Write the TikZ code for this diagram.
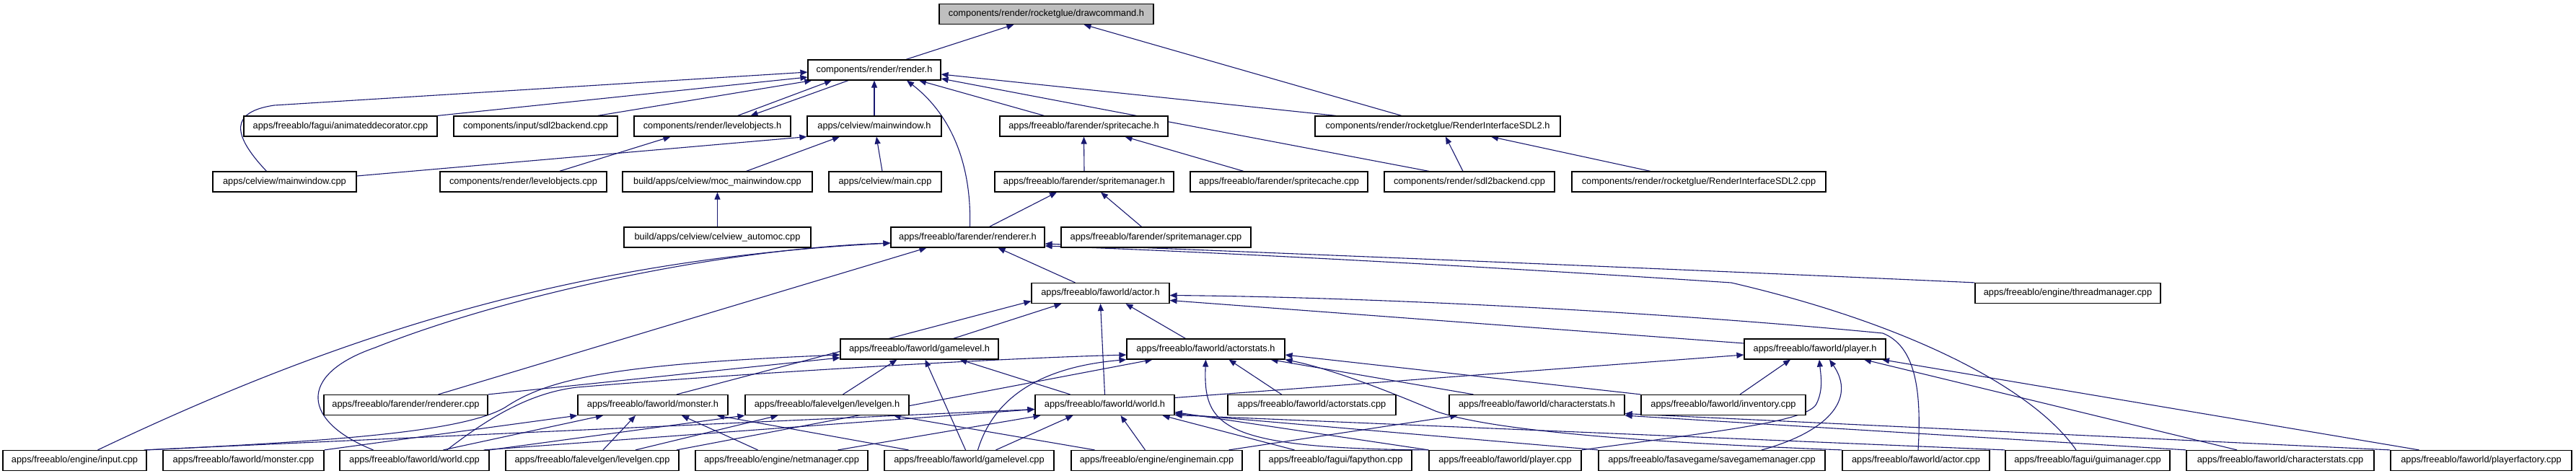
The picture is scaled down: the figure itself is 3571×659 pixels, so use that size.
\documentclass[tikz,border=0pt]{standalone}
\usepackage{fontspec}
\setmainfont{Liberation Sans}
\usetikzlibrary{arrows.meta}
\definecolor{edgec}{HTML}{191970}
\definecolor{fillg}{HTML}{BFBFBF}
\pgfdeclarelayer{bg}
\pgfsetlayers{bg,main}
\begin{document}
\begin{tikzpicture}[x=1pt,y=-1pt,
  box/.style={draw=black,line width=1.2pt,rectangle,minimum height=28pt,inner sep=0pt,font=\fontsize{12.8}{15}\selectfont,fill=white},
  edge/.style={draw=edgec,line width=1.1pt,-{Triangle[length=10pt,width=8pt]}}]
\useasboundingbox (0,0) rectangle (3571,659);
% row 0,1
\node[box,minimum width=297pt,fill=fillg] (dc) at (1450.5,19.5) {components/render/rocketglue/drawcommand.h};
\node[box,minimum width=184pt] (rh) at (1212,97) {components/render/render.h};
% row 2
\node[box,minimum width=268pt] (ad) at (472,175) {apps/freeablo/fagui/animateddecorator.cpp};
\node[box,minimum width=227pt] (isb) at (742.5,175) {components/input/sdl2backend.cpp};
\node[box,minimum width=217pt] (loh) at (987.5,175) {components/render/levelobjects.h};
\node[box,minimum width=186pt] (mwh) at (1212,175) {apps/celview/mainwindow.h};
\node[box,minimum width=233pt] (sch) at (1502.5,175) {apps/freeablo/farender/spritecache.h};
\node[box,minimum width=340pt] (rih) at (1993,175) {components/render/rocketglue/RenderInterfaceSDL2.h};
% row 3
\node[box,minimum width=199pt] (mwc) at (394.5,252) {apps/celview/mainwindow.cpp};
\node[box,minimum width=231pt] (loc) at (725.5,252) {components/render/levelobjects.cpp};
\node[box,minimum width=263pt] (moc) at (994.5,252) {build/apps/celview/moc\_mainwindow.cpp};
\node[box,minimum width=156pt] (mc) at (1227,252) {apps/celview/main.cpp};
\node[box,minimum width=248pt] (smh) at (1503,252) {apps/freeablo/farender/spritemanager.h};
\node[box,minimum width=246pt] (scc) at (1773,252) {apps/freeablo/farender/spritecache.cpp};
\node[box,minimum width=236pt] (rsb) at (2037,252) {components/render/sdl2backend.cpp};
\node[box,minimum width=352pt] (ric) at (2355,252) {components/render/rocketglue/RenderInterfaceSDL2.cpp};
% row 4
\node[box,minimum width=259pt] (am) at (994.5,329) {build/apps/celview/celview\_automoc.cpp};
\node[box,minimum width=213pt] (rrh) at (1341.5,329) {apps/freeablo/farender/renderer.h};
\node[box,minimum width=263pt] (smc) at (1602.5,329) {apps/freeablo/farender/spritemanager.cpp};
% row 5
\node[box,minimum width=191pt] (ah) at (1525.5,406.5) {apps/freeablo/faworld/actor.h};
\node[box,minimum width=257pt] (tm) at (2866.5,406.5) {apps/freeablo/engine/threadmanager.cpp};
% row 6
\node[box,minimum width=219pt] (glh) at (1274.5,484) {apps/freeablo/faworld/gamelevel.h};
\node[box,minimum width=219pt] (ash) at (1671.5,484) {apps/freeablo/faworld/actorstats.h};
\node[box,minimum width=196pt] (ph) at (2516,484) {apps/freeablo/faworld/player.h};
% row 7
\node[box,minimum width=227pt] (rrc) at (562.5,561.5) {apps/freeablo/farender/renderer.cpp};
\node[box,minimum width=208pt] (mh) at (905,561.5) {apps/freeablo/faworld/monster.h};
\node[box,minimum width=227pt] (lgh) at (1146.5,561.5) {apps/freeablo/falevelgen/levelgen.h};
\node[box,minimum width=193pt] (wh) at (1531.5,561.5) {apps/freeablo/faworld/world.h};
\node[box,minimum width=233pt] (asc) at (1818.5,561.5) {apps/freeablo/faworld/actorstats.cpp};
\node[box,minimum width=243pt] (csh) at (2130.5,561.5) {apps/freeablo/faworld/characterstats.h};
\node[box,minimum width=228pt] (inv) at (2389,561.5) {apps/freeablo/faworld/inventory.cpp};
% row 8
\node[box,minimum width=199pt] (inp) at (103.5,638.5) {apps/freeablo/engine/input.cpp};
\node[box,minimum width=223pt] (mcc) at (337.5,638.5) {apps/freeablo/faworld/monster.cpp};
\node[box,minimum width=207pt] (wc) at (574.5,638.5) {apps/freeablo/faworld/world.cpp};
\node[box,minimum width=240pt] (lgc) at (821,638.5) {apps/freeablo/falevelgen/levelgen.cpp};
\node[box,minimum width=239pt] (nm) at (1083.5,638.5) {apps/freeablo/engine/netmanager.cpp};
\node[box,minimum width=235pt] (glc) at (1343.5,638.5) {apps/freeablo/faworld/gamelevel.cpp};
\node[box,minimum width=237pt] (em) at (1603.5,638.5) {apps/freeablo/engine/enginemain.cpp};
\node[box,minimum width=211pt] (fp) at (1851.5,638.5) {apps/freeablo/fagui/fapython.cpp};
\node[box,minimum width=211pt] (pc) at (2086.5,638.5) {apps/freeablo/faworld/player.cpp};
\node[box,minimum width=314pt] (sg) at (2373,638.5) {apps/freeablo/fasavegame/savegamemanager.cpp};
\node[box,minimum width=204pt] (acc) at (2656,638.5) {apps/freeablo/faworld/actor.cpp};
\node[box,minimum width=228pt] (gm) at (2894,638.5) {apps/freeablo/fagui/guimanager.cpp};
\node[box,minimum width=260pt] (csc) at (3161,638.5) {apps/freeablo/faworld/characterstats.cpp};
\node[box,minimum width=251pt] (pf) at (3439.5,638.5) {apps/freeablo/faworld/playerfactory.cpp};

\begin{pgfonlayer}{bg}
% top part
\draw[edge] ([xshift=44pt]rh.north) -- ([xshift=-45pt]dc.south);
\draw[edge] ([xshift=-50pt]rih.north) -- ([xshift=52pt]dc.south);
\draw[edge] ([xshift=-25pt]mwc.north) .. controls (320,185) and (320,155) .. (380,146) -- ([yshift=-3pt]rh.west);
\draw[edge] (ad.north east) -- ([yshift=-10pt]rh.west);
\draw[edge] ([xshift=86pt]isb.north) -- ([xshift=6pt]rh.south west);
\draw[edge] ([xshift=35pt]loh.north) -- ([xshift=-59pt]rh.south);
\draw[edge] ([xshift=-36pt]rh.south) -- ([xshift=53pt]loh.north);
\draw[edge] (mwh.north) -- (rh.south);
\draw[edge] ([xshift=3pt]rrh.north) .. controls (1347,230) and (1320,160) .. ([xshift=45pt]rh.south);
\draw[edge] ([xshift=-55pt]sch.north) -- ([xshift=62pt]rh.south);
\draw[edge] ([xshift=-141pt]rih.north) -- ([yshift=-6pt]rh.east);
\draw[edge] ([xshift=-56pt]rsb.north) -- ([yshift=-12pt]rh.east);
\draw[edge] ([xshift=50pt]loc.north) -- ([xshift=-58pt]loh.south);
\draw[edge] ([yshift=8pt]mwc.east) -- (mwh.south west);
\draw[edge] ([xshift=40pt]moc.north) -- ([xshift=-48pt]mwh.south);
\draw[edge] ([xshift=-4pt]mc.north) -- ([xshift=3pt]mwh.south);
\draw[edge] (am.north) -- (moc.south);
\draw[edge] (smh.north) -- (sch.south);
\draw[edge] ([xshift=-49pt]scc.north) -- ([xshift=57pt]sch.south);
\draw[edge] ([xshift=30pt]rrh.north) -- ([xshift=-38pt]smh.south);
\draw[edge] ([xshift=-20pt]smc.north) -- ([xshift=23pt]smh.south);
\draw[edge] ([xshift=-9pt]rsb.north) -- ([xshift=11pt]rih.south);
\draw[edge] ([xshift=-67pt]ric.north) -- ([xshift=74pt]rih.south);
% renderer.h
\draw[edge] ([xshift=32pt]inp.north) .. controls (480,460) and (800,360) .. ([yshift=-8pt]rrh.west);
\draw[edge] ([xshift=-57pt]wc.north) .. controls (420,585) and (410,520) .. (520,482) .. controls (700,410) and (1000,345) .. ([yshift=-8pt]rrh.west);
\draw[edge] ([xshift=45pt]rrc.north) -- ([xshift=-57pt]rrh.south);
\draw[edge] ([xshift=-35pt]ah.north) -- ([xshift=42pt]rrh.south);
\draw[edge] (tm.north west) .. controls (2300,372) and (1800,352) .. ([yshift=-9pt]rrh.east);
\draw[edge] ([xshift=-16pt]gm.north) .. controls (2820,540) and (2650,450) .. (2400,392) .. controls (2100,372) and (1700,350) .. ([yshift=-12pt]rrh.east);
% actor.h
\draw[edge] ([xshift=47pt]glh.north) -- ([xshift=-54pt]ah.south);
\draw[edge] ([xshift=33pt]mh.north) -- ([yshift=-11pt]ah.west);
\draw[edge] (wh.north) -- (ah.south);
\draw[edge] ([xshift=-28pt]ash.north) -- ([xshift=35pt]ah.south);
\draw[edge] ([xshift=3pt]acc.north) .. controls (2664,540) and (2655,480) .. (2610,462) .. controls (2300,432) and (1900,412) .. ([yshift=-3pt]ah.east);
\draw[edge] ([yshift=8pt]ph.west) -- ([yshift=-10pt]ah.east);
% gamelevel.h
\draw[edge] ([xshift=22pt]lgh.north) -- ([xshift=-31pt]glh.south);
\draw[edge] ([xshift=-5pt]glc.north) -- ([xshift=8pt]glh.south);
\draw[edge] ([xshift=-48pt]wh.north) -- ([xshift=56pt]glh.south);
\draw[edge] (inp.north east) .. controls (450,612) and (640,600) .. (700,565) .. controls (760,525) and (850,505) .. ([yshift=-8pt]glh.west);
\draw[edge] (rrc.north east) -- ([yshift=-12pt]glh.west);
% monster.h
\draw[edge] (mcc.north east) -- (mh.south west);
\draw[edge] ([xshift=40pt]wc.north) -- ([xshift=-69pt]mh.south);
\draw[edge] ([xshift=15pt]lgc.north) -- ([xshift=-24pt]mh.south);
\draw[edge] ([xshift=-33pt]nm.north) -- ([xshift=40pt]mh.south);
\draw[edge] ([xshift=-84pt]glc.north) -- ([xshift=89pt]mh.south);
% levelgen.h
\draw[edge] (wc.north east) -- (lgh.south west);
\draw[edge] ([xshift=60pt]lgc.north) -- ([xshift=-68pt]lgh.south);
\draw[edge] ([xshift=-86pt]em.north) -- ([xshift=92pt]lgh.south);
% actorstats.h
\draw[edge] ([xshift=45pt]wc.north) .. controls (670,585) and (730,545) .. (800,537) .. controls (1000,520) and (1350,498) .. ([yshift=-8pt]ash.west);
\draw[edge] ([xshift=12pt]glc.north) .. controls (1375,560) and (1430,510) .. (ash.south west);
\draw[edge] ([xshift=117pt]lgc.north) -- ([xshift=-74pt]ash.south);
\draw[edge] (pc.north west) .. controls (1690,622) and (1668,590) .. (ash.south);
\draw[edge] ([xshift=-42pt]asc.north) -- ([xshift=32pt]ash.south);
\draw[edge] ([xshift=-88pt]csh.north) -- ([xshift=90pt]ash.south);
\draw[edge] (acc.north west) .. controls (2350,616) and (2080,602) .. (1990,570) .. controls (1920,540) and (1840,510) .. (ash.south east);
\draw[edge] (inv.north west) -- ([yshift=-8pt]ash.east);
% world.h
\draw[edge] ([xshift=-4pt]inp.north east) -- ([yshift=-6pt]wh.west);
\draw[edge] ([xshift=-8pt]wc.north east) -- ([yshift=-6pt]wh.west);
\draw[edge] ([xshift=78pt]nm.north) -- ([xshift=-89pt]wh.south);
\draw[edge] ([xshift=37pt]glc.north) -- ([xshift=-44pt]wh.south);
\draw[edge] ([xshift=-16pt]em.north) -- ([xshift=22pt]wh.south);
\draw[edge] ([xshift=-57pt]fp.north) -- ([xshift=80pt]wh.south);
\draw[edge] (pc.north west) -- ([yshift=-10pt]wh.east);
\draw[edge] (sg.north west) -- ([yshift=-12pt]wh.east);
\draw[edge] (gm.north west) -- ([yshift=-14pt]wh.east);
% characterstats.h
\draw[edge] ([xshift=100pt]em.north) -- ([xshift=-110pt]csh.south);
\draw[edge] (csc.north west) -- (csh.south east);
\draw[edge] (pf.north west) -- ([yshift=-12pt]csh.east);
% player.h
\draw[edge] ([yshift=10pt]wh.east) -- ([yshift=-8pt]ph.west);
\draw[edge] ([xshift=23pt]inv.north) -- ([xshift=-34pt]ph.south);
\draw[edge] (pc.north east) .. controls (2380,598) and (2505,585) .. (2518,560) .. controls (2528,540) and (2524,520) .. ([xshift=6pt]ph.south);
\draw[edge] ([xshift=69pt]sg.north) .. controls (2530,600) and (2575,555) .. ([xshift=20pt]ph.south);
\draw[edge] ([xshift=-60pt]csc.north) -- ([xshift=68pt]ph.south);
\draw[edge] ([xshift=-86pt]pf.north) -- ([xshift=93pt]ph.south);
\end{pgfonlayer}
\end{tikzpicture}
\end{document}
